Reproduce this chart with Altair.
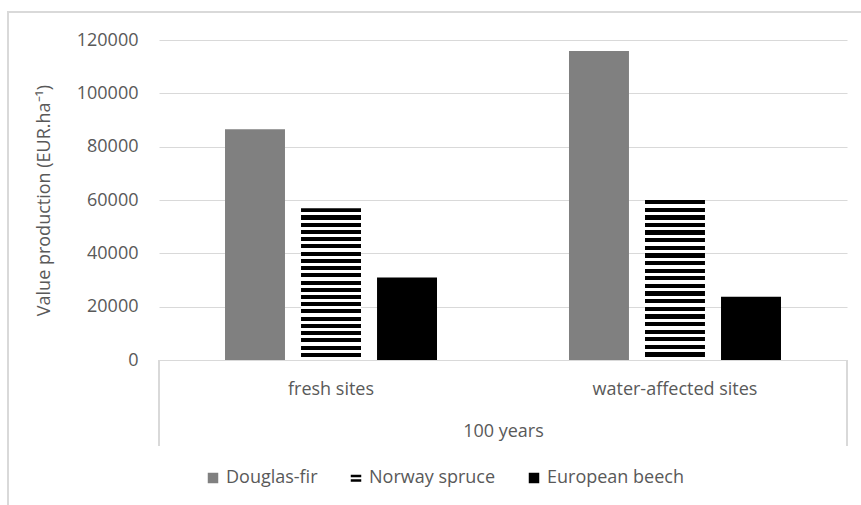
import altair as alt
import pandas as pd

# Value production after 100 years, by site type and tree species
sites = ["fresh sites", "water-affected sites"]
species = ["Douglas-fir", "Norway spruce", "European beech"]
douglas_fir = [86500, 115900]
norway_spruce = [56900, 60000]
european_beech = [30900, 23750]

rows = []
for i, site in enumerate(sites):
    for sp, vals in zip(species, [douglas_fir, norway_spruce, european_beech]):
        rows.append({"site": site, "species": sp, "value": vals[i]})
df = pd.DataFrame(rows)

FONT = "Open Sans"
TEXT = "#595959"
GRID = "#d9d9d9"
W, H = 688, 320

# horizontal black/white hatching for the Norway spruce bars
n_stripes = 21
stops = []
for k in range(n_stripes):
    a = k / n_stripes
    b = (k + 0.56) / n_stripes
    c = (k + 1) / n_stripes
    stops += [
        alt.GradientStop(color="black", offset=a),
        alt.GradientStop(color="black", offset=b),
        alt.GradientStop(color="white", offset=b),
        alt.GradientStop(color="white", offset=c),
    ]
hatch = alt.Gradient(gradient="linear", stops=stops, x1=0, x2=0, y1=0, y2=1)

x_enc = alt.X(
    "site:N",
    sort=sites,
    scale=alt.Scale(paddingInner=0.3837, paddingOuter=0.1919),
    axis=alt.Axis(
        title="100 years",
        labelAngle=0,
        labelFontSize=18,
        labelColor=TEXT,
        labelFont=FONT,
        labelPadding=20,
        titleFontSize=18,
        titleFont=FONT,
        titleColor=TEXT,
        titleFontWeight="normal",
        titlePadding=24,
        ticks=False,
        domainColor=GRID,
    ),
)
xoff_enc = alt.XOffset(
    "species:N",
    sort=species,
    scale=alt.Scale(domain=species, paddingInner=0.211, paddingOuter=0),
)
y_enc = alt.Y(
    "value:Q",
    scale=alt.Scale(domain=[0, 120000]),
    axis=alt.Axis(
        title="Value production (EUR.ha⁻¹)",
        values=[0, 20000, 40000, 60000, 80000, 100000, 120000],
        format="d",
        grid=True,
        gridColor=GRID,
        domain=False,
        ticks=False,
        labelFontSize=18,
        labelFont=FONT,
        labelColor=TEXT,
        labelPadding=21,
        titleFontSize=18,
        titleFont=FONT,
        titleColor=TEXT,
        titleFontWeight="normal",
        titlePadding=23,
    ),
)

base = alt.Chart(df)

# outer chart frame
frame = base.mark_rect(fill=None, fillOpacity=0, stroke=GRID, strokeWidth=1.5).encode(
    x=alt.value(-151), x2=alt.value(W + 20), y=alt.value(-28), y2=alt.value(H + 200)
)

solid_bars = base.transform_filter(
    alt.datum.species != "Norway spruce"
).mark_bar().encode(
    x=x_enc,
    xOffset=xoff_enc,
    y=y_enc,
    color=alt.Color(
        "species:N",
        scale=alt.Scale(domain=species, range=["#808080", "#000000", "#000000"]),
        legend=None,
    ),
)

hatched_bars = base.transform_filter(
    alt.datum.species == "Norway spruce"
).mark_bar(color=hatch).encode(x=x_enc, xOffset=xoff_enc, y=y_enc)

# off-canvas points that carry the legend
legend_pts = base.mark_point(filled=True, opacity=1).encode(
    x=alt.value(-2000),
    y=alt.value(-2000),
    color=alt.Color(
        "species:N",
        scale=alt.Scale(domain=species, range=["#808080", "#000000", "#000000"]),
        legend=alt.Legend(
            title=None,
            orient="none",
            legendX=45,
            legendY=H + 109,
            direction="horizontal",
            labelFontSize=18,
            labelFont=FONT,
            labelColor=TEXT,
            symbolSize=110,
            symbolOpacity=1,
            columnPadding=29,
            labelOffset=4,
        ),
    ),
    shape=alt.Shape(
        "species:N",
        scale=alt.Scale(
            domain=species,
            range=[
                "square",
                "M-1,-0.6H1V-0.12H-1Z M-1,0.22H1V0.7H-1Z",
                "square",
            ],
        ),
        legend=alt.Legend(title=None),
    ),
)

# side lines of the category axis box
left_line = base.mark_rule(color=GRID, strokeWidth=1.5).encode(
    x=alt.value(0), y=alt.value(H), y2=alt.value(H + 86)
)
right_line = base.mark_rule(color=GRID, strokeWidth=1.5).encode(
    x=alt.value(W), y=alt.value(H), y2=alt.value(H + 86)
)

chart = (
    alt.layer(frame, legend_pts, solid_bars, hatched_bars, left_line, right_line)
    .properties(
        width=W,
        height=H,
        autosize=alt.AutoSizeParams(type="none"),
        padding={"left": 159, "top": 40, "right": 14, "bottom": 145},
        background="white",
    )
    .configure_view(stroke=None)
)

chart.save("out.html", embed_options={"renderer": "svg", "actions": False})
